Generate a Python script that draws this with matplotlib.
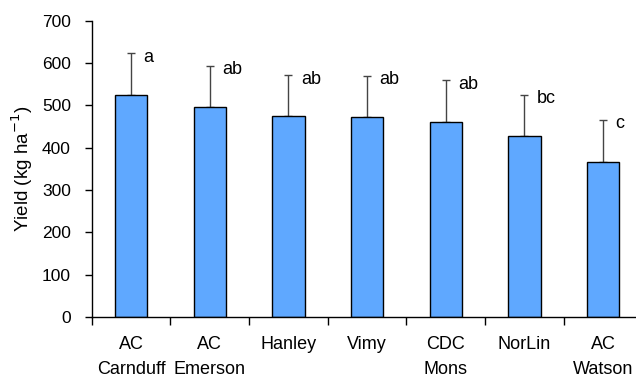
import numpy as np
import matplotlib
matplotlib.use('Agg')
import matplotlib.pyplot as plt

cultivars = ['AC\nCarnduff', 'AC\nEmerson', 'Hanley', 'Vimy', 'CDC\nMons', 'NorLin', 'AC\nWatson']
yield_mean = [525, 496, 474, 472, 460, 427, 366]
yield_err = [99, 98, 98, 98, 99, 98, 100]
letters = ['a', 'ab', 'ab', 'ab', 'ab', 'bc', 'c']

plt.rcParams['font.family'] = ['Liberation Sans', 'DejaVu Sans']

fig = plt.figure(figsize=(6.36, 3.78), dpi=100)
ax = fig.add_axes([0.1442, 0.1614, 0.866, 0.7838])

x = np.arange(len(cultivars))
ax.bar(x, yield_mean, width=0.41, color='#5fa8ff', edgecolor='black', linewidth=1.0, zorder=2)
ax.errorbar(x, yield_mean, yerr=[np.zeros(len(x)), yield_err], fmt='none',
            ecolor='#444444', elinewidth=1.0, capsize=3, capthick=1.0, zorder=1)

for xi, m, e, lab in zip(x, yield_mean, yield_err, letters):
    ax.annotate(lab, (xi, m + e), xytext=(9, -3), textcoords='offset points',
                ha='left', va='center', fontsize=13)

ax.set_xlim(-0.5, len(cultivars) - 0.5)
ax.set_ylim(0, 700)
ax.set_yticks(np.arange(0, 701, 100))
ax.set_xticks(np.arange(-0.5, len(cultivars), 1.0))
ax.set_xticklabels([])
ax.set_xticks(x, minor=True)
ax.set_xticklabels(cultivars, minor=True)
ax.tick_params(axis='x', which='minor', length=0, pad=14, labelsize=13)
ax.tick_params(axis='x', which='major', length=6, width=1, direction='out')
ax.tick_params(axis='y', length=5, width=1, direction='out', labelsize=12.5, pad=10)
for t in ax.get_xticklabels(minor=True):
    t.set_linespacing(1.55)

ax.spines['top'].set_visible(False)
ax.spines['right'].set_visible(False)
ax.spines['left'].set_linewidth(1.0)
ax.spines['bottom'].set_linewidth(1.0)
ax.set_ylabel('Yield (kg ha$^{-1}$)', fontsize=13.5, labelpad=5)

fig.savefig('out.png', dpi=100, facecolor='white')
